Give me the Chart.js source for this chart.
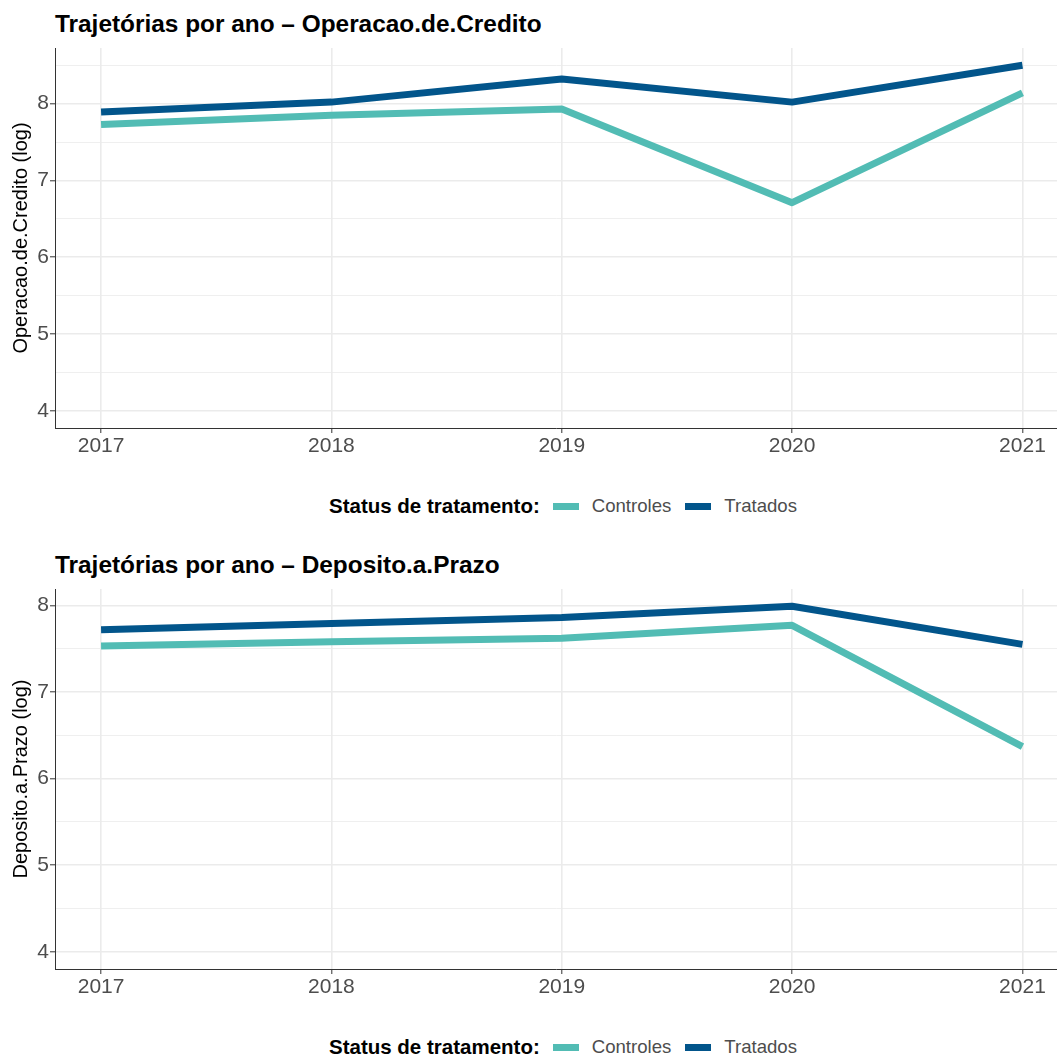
<!DOCTYPE html>
<html lang="pt-BR">

<head>
    <meta charset="UTF-8">
    <script src="https://cdn.jsdelivr.net/npm/chart.js"></script>
    <title>Trajetórias por ano</title>

    <style>
        body {
            margin: 0;
            background: #ffffff;
            font-family: "Liberation Sans", Arial, Helvetica, sans-serif;
        }

        .painel {
            position: relative;
            width: 1057px;
            height: 541px;
        }

        .painel canvas {
            position: absolute;
            left: 0;
            top: 0;
        }

        .titulo {
            position: absolute;
            left: 55px;
            top: 12px;
            font-size: 24.4px;
            font-weight: bold;
            line-height: 1;
            color: #000000;
            white-space: nowrap;
        }

        .legenda {
            position: absolute;
            left: 329px;
            top: 496px;
            height: 20px;
            display: flex;
            align-items: center;
            line-height: 1;
            white-space: nowrap;
        }

        .legenda b {
            font-size: 20.5px;
            color: #000000;
            margin-right: 13px;
        }

        .legenda .chave {
            display: inline-block;
            width: 26px;
            height: 7px;
            margin-right: 13px;
        }

        .legenda .rotulo {
            font-size: 18.6px;
            color: #4D4D4D;
            margin-right: 14px;
        }
    </style>
</head>

<body>

    <div class="painel">
        <div class="titulo">Trajetórias por ano – Operacao.de.Credito</div>
        <canvas id="graficoCredito" width="1057" height="470"></canvas>
        <div class="legenda" id="legendaCredito"></div>
    </div>

    <div class="painel">
        <div class="titulo">Trajetórias por ano – Deposito.a.Prazo</div>
        <canvas id="graficoDeposito" width="1057" height="470"></canvas>
        <div class="legenda" id="legendaDeposito"></div>
    </div>

<script>
    // dados
    const anos = [2017, 2018, 2019, 2020, 2021];
    const grupos = ['Controles', 'Tratados'];
    const cores = ['#52BCB4', '#02558B'];

    // Operacao.de.Credito (log)
    const creditoControles = [7.73, 7.85, 7.93, 6.71, 8.14];
    const creditoTratados = [7.89, 8.02, 8.32, 8.02, 8.50];

    // Deposito.a.Prazo (log)
    const depositoControles = [7.53, 7.58, 7.62, 7.77, 6.37];
    const depositoTratados = [7.72, 7.79, 7.86, 7.99, 7.55];

    // marcas do eixo y (inteiros = principais, meios = secundarias)
    const ticksCredito = [4, 4.5, 5, 5.5, 6, 6.5, 7, 7.5, 8, 8.5];
    const ticksDeposito = [4, 4.5, 5, 5.5, 6, 6.5, 7, 7.5, 8];

    Chart.defaults.font.family = '"Liberation Sans", Arial, Helvetica, sans-serif';

    function ehPrincipal(v) {
        return Math.abs(v - Math.round(v)) < 1e-9;
    }

    function montaLegenda(idLegenda) {
        let html = '<b>Status de tratamento:</b>';
        for (let i = 0; i < grupos.length; i++) {
            html += '<span class="chave" style="background:' + cores[i] + '"></span>';
            html += '<span class="rotulo">' + grupos[i] + '</span>';
        }
        document.getElementById(idLegenda).innerHTML = html;
    }

    function criaGrafico(idCanvas, variavel, controles, tratados, ticksY) {
        // limites como no ggplot: de 4 ate o maximo, com 5% de folga
        const yMax = Math.max(...controles, ...tratados);
        const folga = 0.05 * (yMax - ticksY[0]);

        const series = [controles, tratados];
        const datasets = series.map(function (valores, i) {
            return {
                label: grupos[i],
                data: anos.map((ano, j) => ({ x: ano, y: valores[j] })),
                borderColor: cores[i],
                backgroundColor: cores[i],
                borderWidth: 7,
                borderJoinStyle: 'round',
                pointRadius: 0,
                tension: 0,
                fill: false
            };
        });

        return new Chart(document.getElementById(idCanvas), {
            type: 'line',
            data: { datasets: datasets },
            options: {
                responsive: false,
                animation: false,
                devicePixelRatio: 1,
                layout: { padding: { top: 48, right: 0, bottom: 0, left: 0 } },
                plugins: {
                    legend: { display: false },
                    tooltip: { enabled: false }
                },
                scales: {
                    x: {
                        type: 'linear',
                        min: 2016.8,
                        max: 2021.15,
                        afterBuildTicks: function (s) {
                            s.ticks = anos.map(v => ({ value: v }));
                        },
                        afterFit: function (s) {
                            s.height = 42;
                        },
                        ticks: {
                            color: '#4D4D4D',
                            font: { size: 21 },
                            padding: 1,
                            maxRotation: 0,
                            autoSkip: false,
                            callback: v => String(v)
                        },
                        grid: {
                            color: '#EBEBEB',
                            lineWidth: 1.6,
                            tickColor: '#333333',
                            tickLength: 5,
                            tickWidth: 1
                        },
                        border: { display: true, color: '#333333', width: 1 }
                    },
                    y: {
                        type: 'linear',
                        min: ticksY[0] - folga,
                        max: yMax + folga,
                        afterBuildTicks: function (s) {
                            s.ticks = ticksY.map(v => ({ value: v }));
                        },
                        afterFit: function (s) {
                            s.width = 55;
                        },
                        ticks: {
                            color: '#4D4D4D',
                            font: { size: 21 },
                            padding: 1,
                            autoSkip: false,
                            callback: v => ehPrincipal(v) ? String(v) : ''
                        },
                        grid: {
                            color: '#EBEBEB',
                            lineWidth: c => ehPrincipal(c.tick.value) ? 1.6 : 0.8,
                            tickColor: c => ehPrincipal(c.tick.value) ? '#333333' : 'rgba(0,0,0,0)',
                            tickLength: 5,
                            tickWidth: 1
                        },
                        border: { display: true, color: '#333333', width: 1 },
                        title: {
                            display: true,
                            text: variavel + ' (log)',
                            color: '#000000',
                            font: { size: 20 },
                            padding: 9
                        }
                    }
                }
            }
        });
    }

    const graficoCredito = criaGrafico('graficoCredito', 'Operacao.de.Credito',
        creditoControles, creditoTratados, ticksCredito);
    const graficoDeposito = criaGrafico('graficoDeposito', 'Deposito.a.Prazo',
        depositoControles, depositoTratados, ticksDeposito);

    montaLegenda('legendaCredito');
    montaLegenda('legendaDeposito');
</script>

</body>

</html>
